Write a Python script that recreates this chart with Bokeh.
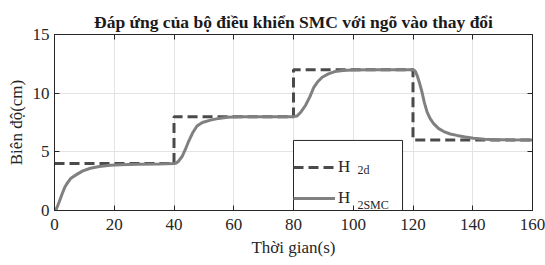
from bokeh.plotting import figure
from bokeh.models import (LinearAxis, Legend, LegendItem, FixedTicker, Range1d,
                          BoxAnnotation)
from bokeh.core.properties import value
from bokeh.embed import file_html
from bokeh.resources import INLINE

# ---- data ----
title_text = "Đáp ứng của bộ điều khiển SMC với ngõ vào thay đổi"
x_label = "Thời gian(s)"
y_label = "Biên độ(cm)"

# reference setpoint H2d (step signal)
t_ref = [0, 40, 40, 80, 80, 120, 120, 160]
h_ref = [4, 4, 8, 8, 12, 12, 6, 6]

# SMC response H2SMC
t_smc = [0, 0.5, 0.9, 1.6, 2.6, 3.4, 4.2, 5.5, 7.6, 9.5, 12, 15, 18.7, 22, 28, 35, 40,
         40.6, 41.5, 42.7, 43.8, 44.9, 46.2, 47.7, 49.5, 52.2, 55, 57.8, 62, 70, 80,
         81.2, 82.5, 84, 85.5, 86.8, 88.2, 89.6, 91.5, 94, 96.5, 99.6, 105, 112, 120,
         120.3, 120.8, 121.4, 122.2, 123, 123.8, 124.7, 125.7, 126.9, 128.5, 130.3,
         132.5, 134.7, 137.5, 140.3, 144, 148, 152, 160]
h_smc = [0, 0.1, 0.3, 0.75, 1.45, 1.95, 2.3, 2.75, 3.1, 3.38, 3.6, 3.75, 3.85, 3.9, 3.94, 3.97, 4.0,
         4.02, 4.2, 4.6, 5.2, 5.9, 6.6, 7.2, 7.5, 7.7, 7.85, 7.95, 7.98, 7.99, 8.0,
         8.05, 8.4, 8.95, 9.7, 10.5, 11.0, 11.36, 11.62, 11.85, 11.93, 11.98, 12.0, 12.0, 12.0,
         11.98, 11.85, 11.5, 10.85, 10.1, 9.2, 8.4, 7.85, 7.4, 7.0, 6.73,
         6.52, 6.4, 6.27, 6.16, 6.08, 6.04, 6.02, 6.0]

x_ticks = [0, 20, 40, 60, 80, 100, 120, 140, 160]
y_ticks = [0, 5, 10, 15]
legend_main = ["H", "H"]
legend_sub = ["2d", "2SMC"]

SERIF = "Liberation Serif"

p = figure(width=545, height=265, output_backend="svg", toolbar_location=None,
           x_range=Range1d(0, 160), y_range=Range1d(0, 15),
           min_border_left=54, min_border_right=13, min_border_top=34,
           min_border_bottom=55, title=title_text)
p.background_fill_color = "white"
p.border_fill_color = "white"
p.outline_line_color = "#262626"
p.outline_line_width = 1

p.title.text_font = SERIF
p.title.text_font_size = "17.5px"
p.title.text_font_style = "bold"
p.title.align = "center"
p.title.text_color = "#1a1a1a"
p.title.standoff = 6

for ax in (p.xaxis[0], p.yaxis[0]):
    ax.major_label_text_font = SERIF
    ax.major_label_text_font_size = "17px"
    ax.major_label_text_color = "#262626"
    ax.axis_label_text_font = SERIF
    ax.axis_label_text_font_size = "17px"
    ax.axis_label_text_font_style = "normal"
    ax.axis_label_text_color = "#262626"
    ax.axis_line_color = "#262626"
    ax.major_tick_line_color = "#262626"
    ax.major_tick_in = 5
    ax.major_tick_out = 0
    ax.minor_tick_line_color = None

p.xaxis[0].ticker = FixedTicker(ticks=x_ticks)
p.yaxis[0].ticker = FixedTicker(ticks=y_ticks)
p.xaxis[0].axis_label = x_label
p.yaxis[0].axis_label = y_label
p.xaxis[0].major_label_standoff = 8
p.xaxis[0].axis_label_standoff = 5
p.yaxis[0].major_label_standoff = 5
p.yaxis[0].axis_label_standoff = 4

# right & top axes with inward ticks only
rax = LinearAxis(ticker=FixedTicker(ticks=y_ticks), major_label_text_font_size="0px",
                 major_tick_in=5, major_tick_out=0, minor_tick_line_color=None,
                 axis_line_color="#262626", major_tick_line_color="#262626",
                 major_label_standoff=0)
p.add_layout(rax, "right")
tax = LinearAxis(ticker=FixedTicker(ticks=x_ticks), major_label_text_font_size="0px",
                 major_tick_in=5, major_tick_out=0, minor_tick_line_color=None,
                 axis_line_color="#262626", major_tick_line_color="#262626",
                 major_label_standoff=0)
p.add_layout(tax, "above")

p.xgrid.ticker = FixedTicker(ticks=x_ticks)
p.ygrid.ticker = FixedTicker(ticks=y_ticks)
p.grid.grid_line_color = "#e3e3e3"
p.grid.grid_line_width = 1
p.xgrid.level = "image"
p.ygrid.level = "image"

# white legend box (drawn above the grid, under the lines)
legend_box = BoxAnnotation(left=80.0, right=116.5, bottom=0, top=5.97,
                           fill_color="white", fill_alpha=1,
                           line_color="#262626", line_width=1, line_alpha=1,
                           level="underlay")
p.add_layout(legend_box)

r_ref = p.line(t_ref, h_ref, line_color="#4a4a4a", line_width=3, line_dash="10 5")
r_smc = p.line(t_smc, h_smc, line_color="#808080", line_width=3)

legend = Legend(items=[LegendItem(label=legend_main[0], renderers=[r_ref]),
                       LegendItem(label=legend_main[1], renderers=[r_smc])],
                location=(239, 0), orientation="vertical",
                padding=7, spacing=7, margin=0,
                glyph_width=42, glyph_height=24, label_standoff=3,
                label_width=50, label_height=24,
                label_text_font=SERIF, label_text_font_size="17px",
                label_text_color="#262626",
                border_line_color=None,
                background_fill_alpha=0)
p.add_layout(legend, "center")

# subscripts of the legend labels, placed just right of each "H"
sub_x = [101.4, 101.4]
sub_y = [3.41, 0.51]
p.text(x=sub_x, y=sub_y, text=legend_sub, text_font=value(SERIF),
       text_font_size="12px", text_color="#262626",
       text_baseline="alphabetic", text_align="left")

open("out.html", "w").write(file_html(p, INLINE))
